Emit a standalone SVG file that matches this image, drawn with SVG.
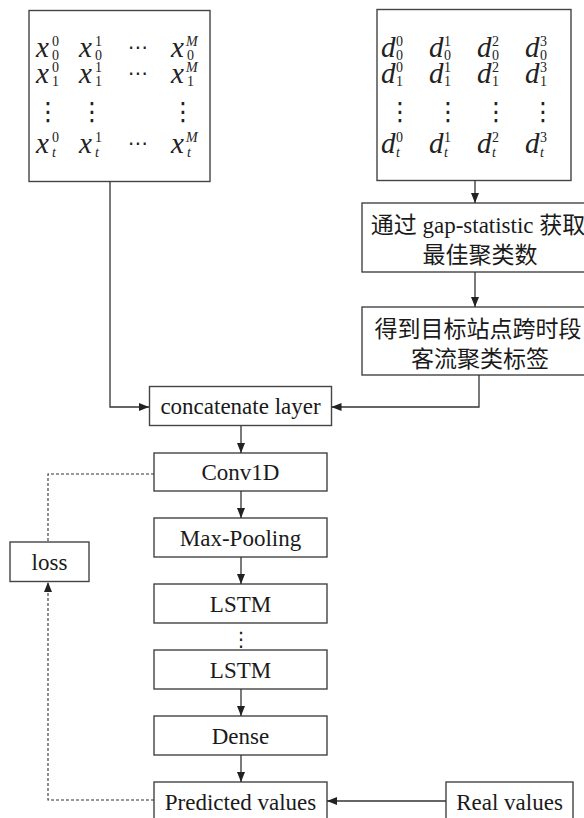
<svg xmlns="http://www.w3.org/2000/svg" width="584" height="818" viewBox="0 0 584 818">
<defs>
<marker id="ah" markerUnits="userSpaceOnUse" markerWidth="10" markerHeight="8" refX="10" refY="4" orient="auto">
<path d="M0,0 L10,4 L0,8 z" fill="#222"/>
</marker>
<style>
.box{fill:#fff;stroke:#444;stroke-width:1.4}
.t{font-family:"Liberation Serif","Times New Roman",serif;font-size:23px;fill:#1a1a1a;text-anchor:middle}
.cn{font-family:"Liberation Serif","Noto Sans CJK SC",serif;font-size:23px;fill:#1a1a1a;text-anchor:middle}
.m{font-family:"Liberation Serif",serif;font-style:italic;font-size:29px;fill:#222}
.s{font-family:"Liberation Serif",serif;font-size:14px;fill:#222}
.si{font-family:"Liberation Serif",serif;font-style:italic;font-size:14px;fill:#222}
.dt{font-family:"DejaVu Sans",sans-serif;font-size:20px;fill:#222;text-anchor:middle}
.dv{font-family:"DejaVu Sans",sans-serif;font-size:25px;fill:#222;text-anchor:middle}
.ln{fill:none;stroke:#333;stroke-width:1.3}
.dash{fill:none;stroke:#333;stroke-width:1.1;stroke-dasharray:3,2}
</style>
</defs>

<g id="matrixX">
<rect class="box" x="29" y="10.5" width="181" height="171"/>
<text class="m" x="36" y="57">x</text><text class="s" x="52" y="46">0</text><text class="s" x="52" y="60">0</text>
<text class="m" x="79" y="57">x</text><text class="s" x="95" y="46">1</text><text class="s" x="95" y="60">0</text>
<text class="dt" x="138" y="54">⋯</text>
<text class="m" x="171" y="57">x</text><text class="si" x="186" y="46">M</text><text class="s" x="187" y="60">0</text>
<text class="m" x="36" y="83">x</text><text class="s" x="52" y="72">0</text><text class="s" x="52" y="86">1</text>
<text class="m" x="79" y="83">x</text><text class="s" x="95" y="72">1</text><text class="s" x="95" y="86">1</text>
<text class="dt" x="138" y="80">⋯</text>
<text class="m" x="171" y="83">x</text><text class="si" x="186" y="72">M</text><text class="s" x="187" y="86">1</text>
<text class="dv" x="48" y="120">⋮</text>
<text class="dv" x="92" y="120">⋮</text>
<text class="dv" x="183" y="120">⋮</text>
<text class="m" x="36" y="153">x</text><text class="s" x="52" y="142">0</text><text class="si" x="52" y="157">t</text>
<text class="m" x="79" y="153">x</text><text class="s" x="95" y="142">1</text><text class="si" x="95" y="157">t</text>
<text class="dt" x="138" y="150">⋯</text>
<text class="m" x="171" y="153">x</text><text class="si" x="186" y="142">M</text><text class="si" x="187" y="157">t</text>
</g>

<g id="matrixD">
<rect class="box" x="377" y="9.5" width="194" height="171"/>
<text class="m" x="381" y="57">d</text><text class="s" x="396" y="46">0</text><text class="s" x="396" y="60">0</text>
<text class="m" x="429" y="57">d</text><text class="s" x="444" y="46">1</text><text class="s" x="444" y="60">0</text>
<text class="m" x="477" y="57">d</text><text class="s" x="492" y="46">2</text><text class="s" x="492" y="60">0</text>
<text class="m" x="525" y="57">d</text><text class="s" x="540" y="46">3</text><text class="s" x="540" y="60">0</text>
<text class="m" x="381" y="83">d</text><text class="s" x="396" y="72">0</text><text class="s" x="396" y="86">1</text>
<text class="m" x="429" y="83">d</text><text class="s" x="444" y="72">1</text><text class="s" x="444" y="86">1</text>
<text class="m" x="477" y="83">d</text><text class="s" x="492" y="72">2</text><text class="s" x="492" y="86">1</text>
<text class="m" x="525" y="83">d</text><text class="s" x="540" y="72">3</text><text class="s" x="540" y="86">1</text>
<text class="dv" x="400" y="120">⋮</text>
<text class="dv" x="448" y="120">⋮</text>
<text class="dv" x="496" y="120">⋮</text>
<text class="dv" x="543" y="120">⋮</text>
<text class="m" x="381" y="153">d</text><text class="s" x="396" y="142">0</text><text class="si" x="396" y="157">t</text>
<text class="m" x="429" y="153">d</text><text class="s" x="444" y="142">1</text><text class="si" x="444" y="157">t</text>
<text class="m" x="477" y="153">d</text><text class="s" x="492" y="142">2</text><text class="si" x="492" y="157">t</text>
<text class="m" x="525" y="153">d</text><text class="s" x="540" y="142">3</text><text class="si" x="540" y="157">t</text>
</g>

<g id="gapStat">
<rect class="box" x="362" y="203" width="240" height="69"/>
<text class="cn" x="478" y="233">通过 gap-statistic 获取</text>
<text class="cn" x="480" y="263">最佳聚类数</text>
</g>

<g id="clusterLabel">
<rect class="box" x="362" y="307" width="240" height="68"/>
<text class="cn" x="478" y="337">得到目标站点跨时段</text>
<text class="cn" x="480" y="367">客流聚类标签</text>
</g>

<g id="concat">
<rect class="box" x="149.5" y="386.5" width="182" height="39"/>
<text class="t" x="240.5" y="414">concatenate layer</text>
</g>

<g id="conv1d">
<rect class="box" x="154" y="453" width="173" height="38"/>
<text class="t" x="240.5" y="480">Conv1D</text>
</g>

<g id="maxpool">
<rect class="box" x="154" y="518" width="173" height="39"/>
<text class="t" x="240.5" y="546">Max-Pooling</text>
</g>

<g id="lstm1">
<rect class="box" x="154" y="584" width="173" height="39"/>
<text class="t" x="240.5" y="612">LSTM</text>
</g>

<g id="lstm2">
<rect class="box" x="154" y="650" width="173" height="39"/>
<text class="t" x="240.5" y="678">LSTM</text>
</g>

<g id="dense">
<rect class="box" x="154" y="716" width="173" height="39"/>
<text class="t" x="240.5" y="744">Dense</text>
</g>

<g id="predicted">
<rect class="box" x="154" y="782" width="173" height="50"/>
<text class="t" x="240.5" y="810">Predicted values</text>
</g>

<g id="real">
<rect class="box" x="446" y="782" width="127" height="50"/>
<text class="t" x="509.5" y="810">Real values</text>
</g>

<g id="loss">
<rect class="box" x="10" y="542" width="79" height="39.5"/>
<text class="t" x="49.5" y="570">loss</text>
</g>

<g id="connectors">
<path class="ln" d="M110,181.5 V407 H149" marker-end="url(#ah)"/>
<path class="ln" d="M475,180.5 V203" marker-end="url(#ah)"/>
<path class="ln" d="M475,272 V307" marker-end="url(#ah)"/>
<path class="ln" d="M479,375 V407 H331.5" marker-end="url(#ah)"/>
<path class="ln" d="M241,426 V453" marker-end="url(#ah)"/>
<path class="ln" d="M241,491 V518" marker-end="url(#ah)"/>
<path class="ln" d="M241,557 V584" marker-end="url(#ah)"/>
<path class="ln" d="M241,689 V716" marker-end="url(#ah)"/>
<path class="ln" d="M241,755 V782" marker-end="url(#ah)"/>
<path class="ln" d="M446,801 H327" marker-end="url(#ah)"/>
<path class="dash" d="M154,474 H48 V542"/>
<path class="dash" d="M154,800 H48 V582" marker-end="url(#ah)"/>
<text class="dt" x="241" y="646">⋮</text>
</g>
</svg>
